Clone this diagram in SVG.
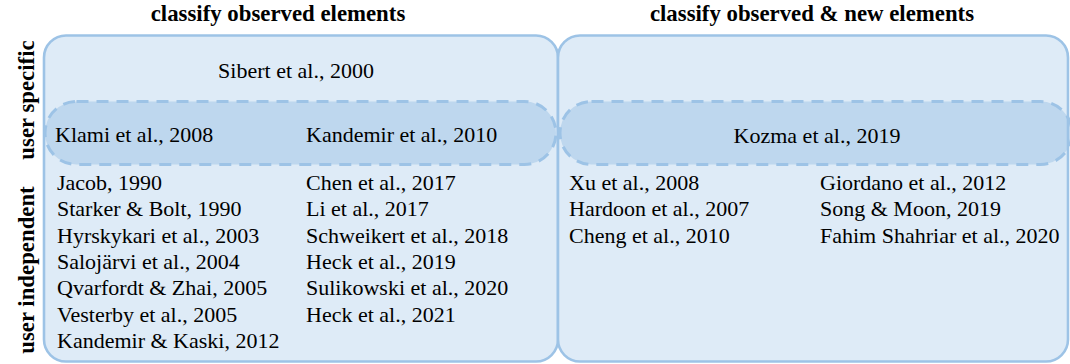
<svg xmlns="http://www.w3.org/2000/svg" width="1070" height="364" viewBox="0 0 1070 364">
<style>
.box{fill:#deebf7;stroke:#9dc3e6;stroke-width:2.6}
.grp{fill:#9dc3e6;fill-opacity:0.5;stroke:#9dc3e6;stroke-width:3;stroke-dasharray:12 8}
text{font-family:"Liberation Serif","Times New Roman",serif;font-size:22px;fill:#000}
.hd{font-weight:bold;font-size:22.8px}
.mid{text-anchor:middle}
</style>
<rect width="1070" height="364" fill="#fff"/>
<g id="headers">
<text class="hd mid" x="278" y="21">classify observed elements</text>
<text class="hd mid" x="812" y="21">classify observed &amp; new elements</text>
<text class="hd mid" transform="translate(34,100) rotate(-90)">user specific</text>
<text class="hd mid" transform="translate(34,270) rotate(-90)">user independent</text>
</g>
<g id="box-observed">
<rect class="box" x="44" y="35.5" width="514" height="326" rx="22"/>
</g>
<g id="box-new">
<rect class="box" x="558" y="35.5" width="510" height="326" rx="22"/>
</g>
<g id="group-specific-observed">
<rect class="grp" x="45" y="101.5" width="511" height="63" rx="31.5"/>
</g>
<g id="group-specific-new">
<rect class="grp" x="560" y="101.5" width="512" height="63" rx="31.5"/>
</g>
<g id="connectors"/>
<g id="labels-observed">
<text class="mid" x="296" y="78">Sibert et al., 2000</text>
<text x="55" y="142">Klami et al., 2008</text>
<text x="306" y="142">Kandemir et al., 2010</text>
<text x="57" y="190">Jacob, 1990</text>
<text x="57" y="216.3">Starker &amp; Bolt, 1990</text>
<text x="57" y="242.6">Hyrskykari et al., 2003</text>
<text x="57" y="268.9">Salojärvi et al., 2004</text>
<text x="57" y="295.2">Qvarfordt &amp; Zhai, 2005</text>
<text x="57" y="321.5">Vesterby et al., 2005</text>
<text x="57" y="347.8">Kandemir &amp; Kaski, 2012</text>
<text x="306" y="190">Chen et al., 2017</text>
<text x="306" y="216.3">Li et al., 2017</text>
<text x="306" y="242.6">Schweikert et al., 2018</text>
<text x="306" y="268.9">Heck et al., 2019</text>
<text x="306" y="295.2">Sulikowski et al., 2020</text>
<text x="306" y="321.5">Heck et al., 2021</text>
</g>
<g id="labels-new">
<text class="mid" x="817" y="142.5">Kozma et al., 2019</text>
<text x="569" y="190">Xu et al., 2008</text>
<text x="569" y="216.3">Hardoon et al., 2007</text>
<text x="569" y="242.6">Cheng et al., 2010</text>
<text x="820" y="190">Giordano et al., 2012</text>
<text x="820" y="216.3">Song &amp; Moon, 2019</text>
<text x="820" y="242.6">Fahim Shahriar et al., 2020</text>
</g>
</svg>
